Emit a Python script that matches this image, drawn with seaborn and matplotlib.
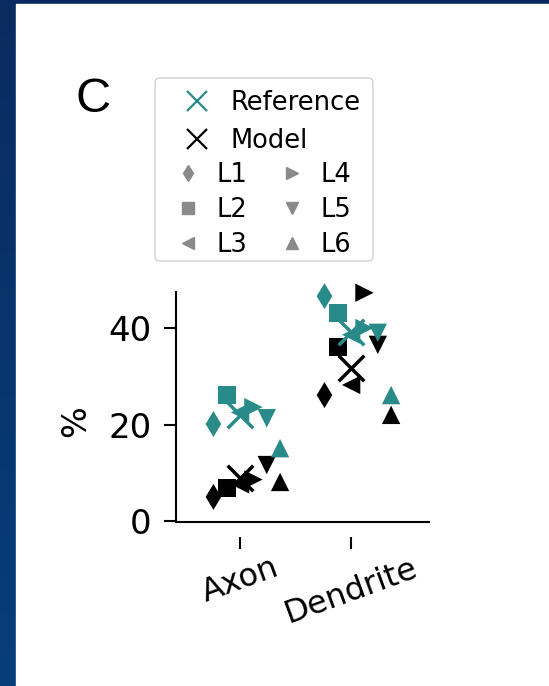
import numpy as np
import pandas as pd
import matplotlib
matplotlib.use("Agg")
import matplotlib.pyplot as plt
import seaborn as sns
from matplotlib.lines import Line2D
from matplotlib.patches import FancyBboxPatch, Rectangle
from matplotlib.colors import LinearSegmentedColormap

# ---- data -------------------------------------------------------------
compartments = ["Axon", "Dendrite"]
layers = ["L1", "L2", "L3", "L4", "L5", "L6"]
layer_markers = ["d", "s", "<", ">", "v", "^"]

# share of synapses (%) per cortical layer
axon_reference = [20.1, 26.1, 22.5, 23.6, 21.3, 15.1]
axon_model = [5.0, 6.8, 7.6, 8.6, 11.6, 8.1]
dendrite_reference = [46.6, 43.1, 38.6, 40.0, 39.0, 26.1]
dendrite_model = [26.1, 36.1, 28.2, 47.3, 36.5, 22.0]

# overall values shown as crosses
overall_reference = [22.0, 39.2]
overall_model = [8.9, 31.7]

y_ticks = [0, 20, 40]
sources = ["Model", "Reference"]

TEAL = "#288a89"
GREY = "#8a8a8a"
palette = {"Reference": TEAL, "Model": "black"}

# ---- tidy tables --------------------------------------------------------
layer_step = 0.12
values = {
    ("Axon", "Reference"): axon_reference,
    ("Axon", "Model"): axon_model,
    ("Dendrite", "Reference"): dendrite_reference,
    ("Dendrite", "Model"): dendrite_model,
}
rows = []
for src in sources:
    for ci, comp in enumerate(compartments):
        for li, (layer, v) in enumerate(zip(layers, values[(comp, src)])):
            rows.append(dict(source=src, compartment=comp, layer=layer,
                             pos=ci + (li - 2) * layer_step, value=v))
points = pd.DataFrame(rows)

overall = pd.DataFrame({
    "source": ["Model"] * 2 + ["Reference"] * 2,
    "pos": [0, 1, 0, 1],
    "value": overall_model + overall_reference,
})

# ---- figure -------------------------------------------------------------
W, H = 549, 686
fig = plt.figure(figsize=(W / 100, H / 100), dpi=100)

# framed background
bg = fig.add_axes([0, 0, 1, 1], zorder=-10)
grad = np.linspace(0, 1, 256).reshape(-1, 1)
cmap = LinearSegmentedColormap.from_list("frame", ["#0a2b60", "#063e7c"])
bg.imshow(grad, extent=[0, 1, 0, 1], aspect="auto", cmap=cmap, origin="upper")
bg.add_patch(Rectangle((16 / W, 0), 1 - 16 / W, 1 - 4 / H, color="white"))
bg.set_xlim(0, 1)
bg.set_ylim(0, 1)
bg.axis("off")

ax = fig.add_axes([176 / W, 1 - 522 / H, (430 - 176) / W, (522 - 292) / H])
ax.set_facecolor("none")

# spine layout first: moving a spine rebuilds the tick objects
for side in ["top", "right"]:
    ax.spines[side].set_visible(False)
ax.spines["left"].set_linewidth(1.5)
ax.spines["bottom"].set_position(("outward", 11))
ax.spines["bottom"].set_visible(False)

sns.scatterplot(data=points, x="pos", y="value", hue="source", style="layer",
                markers=dict(zip(layers, layer_markers)), palette=palette,
                hue_order=sources, style_order=layers,
                s=175, edgecolor="none", linewidth=0, legend=False, ax=ax,
                zorder=3, clip_on=False)
for src in sources:
    sub = overall[overall.source == src]
    sns.scatterplot(data=sub, x="pos", y="value", marker="x", color=palette[src],
                    s=340, linewidth=2.5, legend=False, ax=ax, zorder=4,
                    clip_on=False)

ax.plot([0, 1], [0, 0], transform=ax.transAxes, color="black", lw=1.5,
        clip_on=False, solid_capstyle="butt")

ax.set_xlim(-0.577, 1.71)
ax.set_ylim(-0.2, 47.46)
ax.set_xticks(range(len(compartments)))
ax.set_xticklabels(compartments, rotation=20, ha="center", fontsize=23)
ax.set_yticks(y_ticks)
ax.set_yticklabels([str(t) for t in y_ticks], fontsize=24.5)
ax.set_xlabel("")
ax.set_ylabel("%", fontsize=24)
ax.yaxis.set_label_coords(-0.33, 0.44)
ax.tick_params(axis="y", length=8.6, width=1.5, pad=9)
ax.tick_params(axis="x", length=8.6, width=1.5, pad=2.5)

# ---- legend ------------------------------------------------------------
fs = 18.5
src_handles = [Line2D([], [], marker="x", ls="none", color=TEAL, ms=15, mew=1.6),
               Line2D([], [], marker="x", ls="none", color="black", ms=15, mew=1.6)]
leg1 = fig.legend(src_handles, ["Reference", "Model"], loc="upper left",
                  bbox_to_anchor=(184.5 / W, 1 - 89.5 / H), frameon=False,
                  fontsize=fs, borderpad=0, borderaxespad=0, handlelength=0.97,
                  handletextpad=0.82, labelspacing=0.47)
layer_handles = [Line2D([], [], marker=m, ls="none", color=GREY,
                        ms=8 if m == "d" else 9) for m in layer_markers]
leg2 = fig.legend(layer_handles, layers, loc="upper left", ncol=2,
                  bbox_to_anchor=(175.5 / W, 1 - 161.5 / H), frameon=False,
                  fontsize=fs, borderpad=0, borderaxespad=0, handlelength=0.97,
                  handletextpad=0.63, labelspacing=0.36, columnspacing=1.25)
frame = FancyBboxPatch((155 / W, 1 - 261 / H), (373 - 155) / W, (261 - 78) / H,
                       boxstyle="round,pad=0,rounding_size=0.008",
                       transform=fig.transFigure, facecolor="white",
                       edgecolor="#d0d0d0", lw=1.0, zorder=-5)
fig.patches.append(frame)

fig.text(75 / W, 1 - 112 / H, "C", fontsize=35, family="Liberation Sans",
         ha="left", va="baseline")

fig.savefig("out.png", dpi=100)
